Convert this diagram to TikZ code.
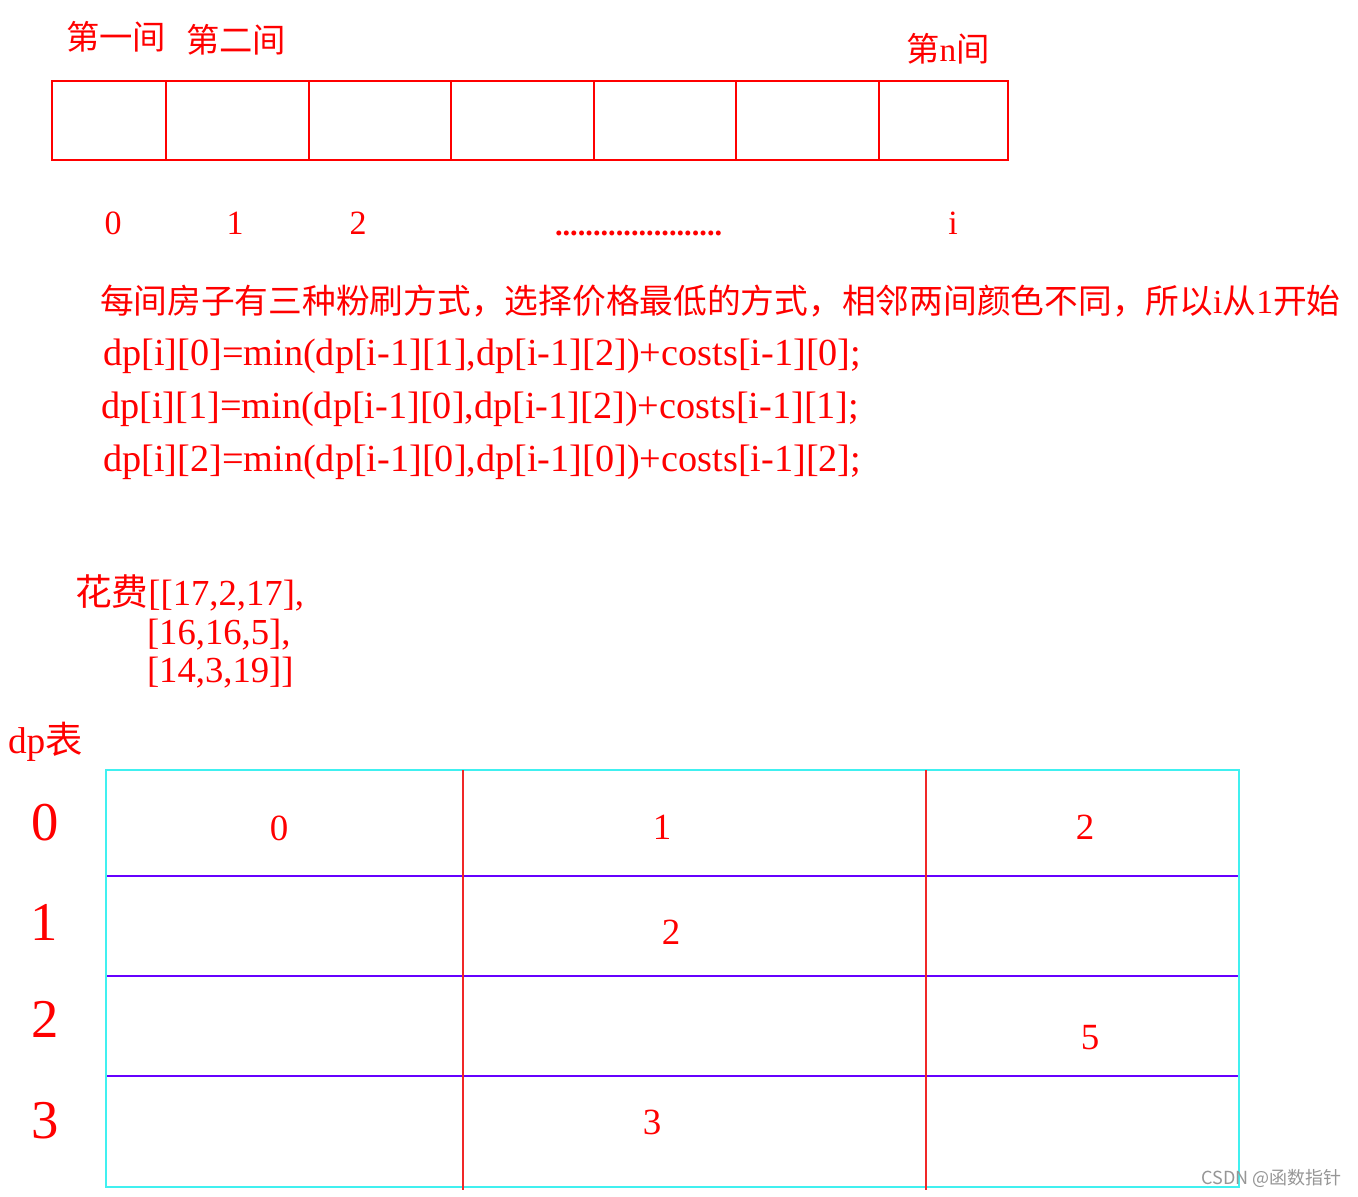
\documentclass[tikz,border=0pt]{standalone}
\usepackage{fontspec}
\setmainfont{Liberation Serif}
\newfontfamily\cjk{Noto Sans CJK SC}
\definecolor{myred}{RGB}{255,0,0}
\definecolor{cellred}{RGB}{240,40,40}
\definecolor{mycyan}{RGB}{64,240,240}
\definecolor{mypurple}{RGB}{102,0,255}
\definecolor{wmgray}{RGB}{150,150,150}
\begin{document}
\begin{tikzpicture}[x=0.75pt,y=-0.75pt,
  txt/.style={inner sep=0pt,outer sep=0pt,text=myred},
  head/.style={txt,font=\fontsize{25}{30}\selectfont},
  idx/.style={txt,anchor=base,font=\fontsize{25.5}{30}\selectfont},
  formula/.style={txt,anchor=base west,font=\fontsize{28.7}{34}\selectfont},
  cost/.style={txt,anchor=base west,font=\fontsize{27.5}{33}\selectfont},
  rowlab/.style={txt,anchor=base,font=\fontsize{41}{48}\selectfont},
  cellval/.style={txt,anchor=base,font=\fontsize{27.7}{33}\selectfont},
  stripline/.style={myred,line width=1pt},
  gridv/.style={cellred,line width=1.2pt},
  gridh/.style={mypurple,line width=1.5pt},
  frame/.style={mycyan,line width=1.5pt}]
\useasboundingbox (0,0) rectangle (1358,1196);
\fill[white] (0,0) rectangle (1358,1196);

% top strip of houses
\draw[stripline] (52,81) rectangle (1008,160);
\foreach \x in {166,309,451,594,736,879} \draw[stripline] (\x,81) -- (\x,161);

\node[head] (h1) at (116,37) {\cjk 第一间};
\node[head] (h2) at (236,40) {\cjk 第二间};
\node[head] (hn) at (948,49) {{\cjk 第}n{\cjk 间}};

\node[idx] (n0) at (113,234) {0};
\node[idx] (n1) at (235,234) {1};
\node[idx] (n2) at (358,234) {2};
\node[txt,anchor=base west,font=\bfseries\fontsize{22.8}{27}\selectfont] (dots) at (555,235) {......................};
\node[idx] (ni) at (953,234) {i};

\node[txt,anchor=base west,font=\fontsize{25.3}{30}\selectfont] (desc) at (100,313)
  {{\cjk 每间房子有三种粉刷方式，选择价格最低的方式，相邻两间颜色不同，所以}i{\cjk 从}1{\cjk 开始}};

\node[formula] (f1) at (103,365) {dp[i][0]=min(dp[i-1][1],dp[i-1][2])+costs[i-1][0];};
\node[formula] (f2) at (101,418) {dp[i][1]=min(dp[i-1][0],dp[i-1][2])+costs[i-1][1];};
\node[formula] (f3) at (103,471) {dp[i][2]=min(dp[i-1][0],dp[i-1][0])+costs[i-1][2];};

\node[cost] (c1) at (75,605) {{\cjk 花费}[[17,2,17],};
\node[cost] (c2) at (147,644) {[16,16,5],};
\node[cost] (c3) at (147,682) {[14,3,19]]};

\node[txt,anchor=base west,font=\fontsize{28}{33}\selectfont] (dplab) at (8,753) {dp{\cjk 表}};

% dp table
\draw[frame] (106,770) rectangle (1239,1187);
\foreach \y in {876,976,1076} \draw[gridh] (107,\y) -- (1238,\y);
\foreach \x in {463,926} \draw[gridv] (\x,770) -- (\x,1190);

\node[rowlab] (r0) at (45,840) {0};
\node[rowlab] (r1) at (44,940) {1};
\node[rowlab] (r2) at (45,1037) {2};
\node[rowlab] (r3) at (45,1138) {3};

\node[cellval] (v00) at (279,840) {0};
\node[cellval] (v01) at (662,839) {1};
\node[cellval] (v02) at (1085,839) {2};
\node[cellval] (v11) at (671,944) {2};
\node[cellval] (v22) at (1090,1049) {5};
\node[cellval] (v31) at (652,1134) {3};

\node[inner sep=0pt,anchor=base east,text=wmgray,font=\cjk\fontsize{13.5}{16}\selectfont] (wm) at (1342,1184) {CSDN @函数指针};
\end{tikzpicture}
\end{document}
